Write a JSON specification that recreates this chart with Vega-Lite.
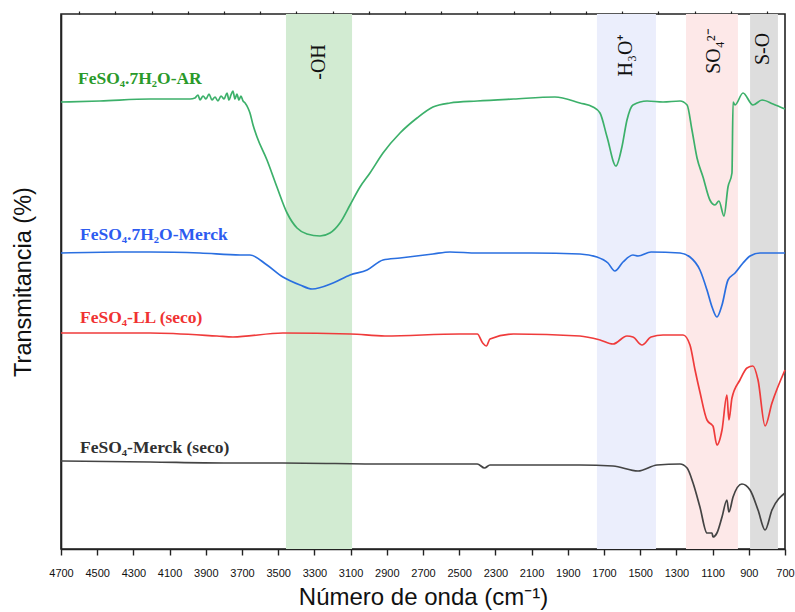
{
  "$schema": "https://vega.github.io/schema/vega-lite/v6.json",
  "width": 724,
  "height": 535,
  "autosize": "none",
  "padding": {"left": 61, "top": 14, "right": 10, "bottom": 63},
  "background": "white",
  "config": {
    "view": {"stroke": "#222222", "strokeWidth": 1.6},
    "axis": {"labelFont": "Liberation Sans", "titleFont": "Liberation Sans", "grid": false},
    "axisY": {"labels": false, "ticks": false, "domainColor": "#222", "domainWidth": 1.6,
      "titleFontSize": 23.5, "titleFontWeight": "normal", "titleColor": "#111", "titlePadding": 26}
  },
  "resolve": {"axis": {"x": "independent"}, "scale": {"color": "independent"}},
  "layer": [
    {
      "data": {"values": [
        {"band": "OH", "start": 3457, "end": 3092},
        {"band": "H3O", "start": 1739, "end": 1413},
        {"band": "SO4", "start": 1247, "end": 960},
        {"band": "SO", "start": 893, "end": 739}
      ]},
      "mark": {"type": "rect"},
      "encoding": {
        "x": {"field": "start", "type": "quantitative", "scale": {"domain": [700, 4700], "reverse": true, "nice": false, "zero": false},
          "axis": {"values": [4700,4500,4300,4100,3900,3700,3500,3300,3100,2900,2700,2500,2300,2100,1900,1700,1500,1300,1100,900,700],
            "format": "d", "labelFontSize": 11, "labelColor": "#111", "tickSize": 6, "tickColor": "#222", "tickWidth": 1.4,
            "domainColor": "#222", "domainWidth": 1.6, "labelPadding": 12, "labelFlush": false,
            "title": "Número de onda (cm⁻¹)", "titleFontSize": 24, "titleFontWeight": "normal", "titleColor": "#111", "titlePadding": 7}},
        "x2": {"field": "end"},
        "color": {"field": "band", "type": "nominal", "legend": null,
          "scale": {"domain": ["OH","H3O","SO4","SO"], "range": ["#d2ebd2","#ebeefc","#fde8e8","#dddddd"]}}
      }
    },
    {
      "data": {"values": [
        {"txt": "-OH", "w": 3275, "t": 487},
        {"txt": "H₃O⁺", "w": 1580, "t": 494},
        {"txt": "SO₄²⁻", "w": 1092, "t": 498},
        {"txt": "S-O", "w": 822, "t": 500}
      ]},
      "mark": {"type": "text", "angle": 270, "align": "center", "baseline": "middle", "font": "Liberation Serif", "fontSize": 20, "color": "#111"},
      "encoding": {
        "x": {"field": "w", "type": "quantitative", "axis": null},
        "y": {"field": "t", "type": "quantitative", "scale": {"domain": [0, 535], "nice": false, "zero": false}, "title": "Transmitancia (%)"},
        "text": {"field": "txt"}
      }
    },
    {
      "data": {"values": [
        {"s":"AR","w":4700,"t":447},{"s":"AR","w":4485,"t":448},{"s":"AR","w":4208,"t":450},{"s":"AR","w":3987,"t":450},
        {"s":"AR","w":3960,"t":451},{"s":"AR","w":3943,"t":454},{"s":"AR","w":3932,"t":449},{"s":"AR","w":3915,"t":453},
        {"s":"AR","w":3899,"t":450},{"s":"AR","w":3882,"t":455},{"s":"AR","w":3866,"t":449},{"s":"AR","w":3849,"t":452},
        {"s":"AR","w":3833,"t":448},{"s":"AR","w":3816,"t":453},{"s":"AR","w":3799,"t":450},{"s":"AR","w":3783,"t":456},
        {"s":"AR","w":3772,"t":449},{"s":"AR","w":3761,"t":454},{"s":"AR","w":3750,"t":458},{"s":"AR","w":3739,"t":450},
        {"s":"AR","w":3728,"t":455},{"s":"AR","w":3717,"t":449},{"s":"AR","w":3706,"t":453},{"s":"AR","w":3694,"t":448},
        {"s":"AR","w":3683,"t":446},{"s":"AR","w":3667,"t":441},{"s":"AR","w":3656,"t":436},{"s":"AR","w":3639,"t":424},
        {"s":"AR","w":3617,"t":412},{"s":"AR","w":3562,"t":389},{"s":"AR","w":3507,"t":362},{"s":"AR","w":3451,"t":336},
        {"s":"AR","w":3396,"t":321},{"s":"AR","w":3341,"t":315},{"s":"AR","w":3269,"t":313},{"s":"AR","w":3214,"t":316},
        {"s":"AR","w":3159,"t":326},{"s":"AR","w":3103,"t":344},{"s":"AR","w":3048,"t":362},{"s":"AR","w":2993,"t":376},
        {"s":"AR","w":2921,"t":396},{"s":"AR","w":2827,"t":416},{"s":"AR","w":2733,"t":431},{"s":"AR","w":2645,"t":442},
        {"s":"AR","w":2551,"t":446},{"s":"AR","w":2400,"t":448},{"s":"AR","w":2200,"t":450},{"s":"AR","w":1971,"t":452},
        {"s":"AR","w":1833,"t":446},{"s":"AR","w":1761,"t":442},{"s":"AR","w":1722,"t":436},{"s":"AR","w":1683,"t":412},
        {"s":"AR","w":1634,"t":383},{"s":"AR","w":1601,"t":402},{"s":"AR","w":1573,"t":429},{"s":"AR","w":1540,"t":444},
        {"s":"AR","w":1462,"t":448},{"s":"AR","w":1374,"t":447},{"s":"AR","w":1280,"t":448},{"s":"AR","w":1241,"t":444},
        {"s":"AR","w":1214,"t":419},{"s":"AR","w":1186,"t":391},{"s":"AR","w":1153,"t":372},{"s":"AR","w":1115,"t":349},
        {"s":"AR","w":1087,"t":344},{"s":"AR","w":1065,"t":348},{"s":"AR","w":1037,"t":333},{"s":"AR","w":1015,"t":362},
        {"s":"AR","w":993,"t":376},{"s":"AR","w":987,"t":447},{"s":"AR","w":976,"t":444},{"s":"AR","w":932,"t":456},
        {"s":"AR","w":877,"t":444},{"s":"AR","w":827,"t":449},{"s":"AR","w":766,"t":445},{"s":"AR","w":700,"t":440},

        {"s":"M","w":4700,"t":296},{"s":"M","w":4377,"t":297},{"s":"M","w":4208,"t":297},{"s":"M","w":3932,"t":296},
        {"s":"M","w":3710,"t":294},{"s":"M","w":3656,"t":294},{"s":"M","w":3562,"t":284},{"s":"M","w":3474,"t":272},
        {"s":"M","w":3379,"t":264},{"s":"M","w":3313,"t":260},{"s":"M","w":3197,"t":266},{"s":"M","w":3103,"t":274},
        {"s":"M","w":3009,"t":279},{"s":"M","w":2921,"t":289},{"s":"M","w":2827,"t":291},{"s":"M","w":2645,"t":295},
        {"s":"M","w":2551,"t":297},{"s":"M","w":2400,"t":296},{"s":"M","w":2100,"t":296},{"s":"M","w":1833,"t":295},
        {"s":"M","w":1739,"t":292},{"s":"M","w":1678,"t":286},{"s":"M","w":1640,"t":278},{"s":"M","w":1595,"t":287},
        {"s":"M","w":1540,"t":294},{"s":"M","w":1512,"t":293},{"s":"M","w":1440,"t":297},{"s":"M","w":1280,"t":296},
        {"s":"M","w":1225,"t":292},{"s":"M","w":1170,"t":279},{"s":"M","w":1131,"t":259},{"s":"M","w":1103,"t":242},
        {"s":"M","w":1076,"t":232},{"s":"M","w":1048,"t":244},{"s":"M","w":1015,"t":269},{"s":"M","w":976,"t":276},
        {"s":"M","w":932,"t":286},{"s":"M","w":893,"t":293},{"s":"M","w":838,"t":296},{"s":"M","w":700,"t":296},

        {"s":"LL","w":4700,"t":216},{"s":"LL","w":4208,"t":216},{"s":"LL","w":3838,"t":213},{"s":"LL","w":3750,"t":212},
        {"s":"LL","w":3474,"t":216},{"s":"LL","w":3100,"t":215},{"s":"LL","w":2910,"t":213},{"s":"LL","w":2500,"t":215},
        {"s":"LL","w":2400,"t":215},{"s":"LL","w":2370,"t":206},{"s":"LL","w":2350,"t":203},{"s":"LL","w":2330,"t":210},
        {"s":"LL","w":2200,"t":215},{"s":"LL","w":1833,"t":213},{"s":"LL","w":1722,"t":209},{"s":"LL","w":1650,"t":205},
        {"s":"LL","w":1573,"t":213},{"s":"LL","w":1540,"t":212},{"s":"LL","w":1490,"t":204},{"s":"LL","w":1440,"t":212},
        {"s":"LL","w":1374,"t":214},{"s":"LL","w":1263,"t":214},{"s":"LL","w":1225,"t":204},{"s":"LL","w":1197,"t":179},
        {"s":"LL","w":1170,"t":157},{"s":"LL","w":1131,"t":129},{"s":"LL","w":1103,"t":124},{"s":"LL","w":1098,"t":123},
        {"s":"LL","w":1076,"t":104},{"s":"LL","w":1048,"t":119},{"s":"LL","w":1021,"t":154},{"s":"LL","w":1010,"t":129},
        {"s":"LL","w":993,"t":151},{"s":"LL","w":949,"t":169},{"s":"LL","w":910,"t":181},{"s":"LL","w":877,"t":183},
        {"s":"LL","w":849,"t":169},{"s":"LL","w":810,"t":123},{"s":"LL","w":772,"t":146},{"s":"LL","w":700,"t":179},

        {"s":"MS","w":4700,"t":88},{"s":"MS","w":4208,"t":87},{"s":"MS","w":3800,"t":86},{"s":"MS","w":3474,"t":86},
        {"s":"MS","w":2900,"t":85},{"s":"MS","w":2400,"t":85},{"s":"MS","w":2360,"t":81},{"s":"MS","w":2330,"t":84},
        {"s":"MS","w":1833,"t":84},{"s":"MS","w":1650,"t":83},{"s":"MS","w":1512,"t":78},{"s":"MS","w":1407,"t":84},
        {"s":"MS","w":1280,"t":85},{"s":"MS","w":1241,"t":81},{"s":"MS","w":1208,"t":66},{"s":"MS","w":1170,"t":42},
        {"s":"MS","w":1131,"t":16},{"s":"MS","w":1103,"t":16},{"s":"MS","w":1098,"t":12},{"s":"MS","w":1076,"t":16},
        {"s":"MS","w":1048,"t":32},{"s":"MS","w":1021,"t":49},{"s":"MS","w":1010,"t":37},{"s":"MS","w":987,"t":52},
        {"s":"MS","w":938,"t":65},{"s":"MS","w":893,"t":59},{"s":"MS","w":849,"t":39},{"s":"MS","w":810,"t":19},
        {"s":"MS","w":772,"t":39},{"s":"MS","w":700,"t":56}
      ]},
      "mark": {"type": "line", "strokeWidth": 1.7, "interpolate": "monotone"},
      "encoding": {
        "x": {"field": "w", "type": "quantitative", "axis": null},
        "y": {"field": "t", "type": "quantitative", "title": "Transmitancia (%)"},
        "color": {"field": "s", "type": "nominal", "legend": null,
          "scale": {"domain": ["AR","M","LL","MS"], "range": ["#3cb06a","#2a6fe0","#ef3b3b","#444444"]}},
        "order": {"field": "w", "type": "quantitative"}
      }
    },
    {
      "data": {"values": [
        {"lab": "FeSO₄.7H₂O-AR", "w": 4606, "t": 465, "k": "AR"},
        {"lab": "FeSO₄.7H₂O-Merck", "w": 4595, "t": 309, "k": "M"},
        {"lab": "FeSO₄-LL (seco)", "w": 4595, "t": 226, "k": "LL"},
        {"lab": "FeSO₄-Merck (seco)", "w": 4595, "t": 96, "k": "MS"}
      ]},
      "mark": {"type": "text", "align": "left", "baseline": "alphabetic", "font": "Liberation Serif", "fontWeight": "bold", "fontSize": 17.5},
      "encoding": {
        "x": {"field": "w", "type": "quantitative", "axis": null},
        "y": {"field": "t", "type": "quantitative", "title": "Transmitancia (%)"},
        "text": {"field": "lab"},
        "color": {"field": "k", "type": "nominal", "legend": null,
          "scale": {"domain": ["AR","M","LL","MS"], "range": ["#2a9a2a","#2d5bf0","#f03232","#303030"]}}
      }
    },
    {
      "data": {"values": [{"w": 4600}]},
      "mark": {"type": "rule", "opacity": 0},
      "encoding": {
        "x": {"field": "w", "type": "quantitative",
          "axis": {"values": [4600,4400,4200,4000,3800,3600,3400,3200,3000,2800,2600,2400,2200,2000,1800,1600,1400,1200,1000,800],
            "labels": false, "domain": false, "tickSize": 3, "tickColor": "#222", "tickWidth": 1.2, "title": null}}
      }
    }
  ]
}
